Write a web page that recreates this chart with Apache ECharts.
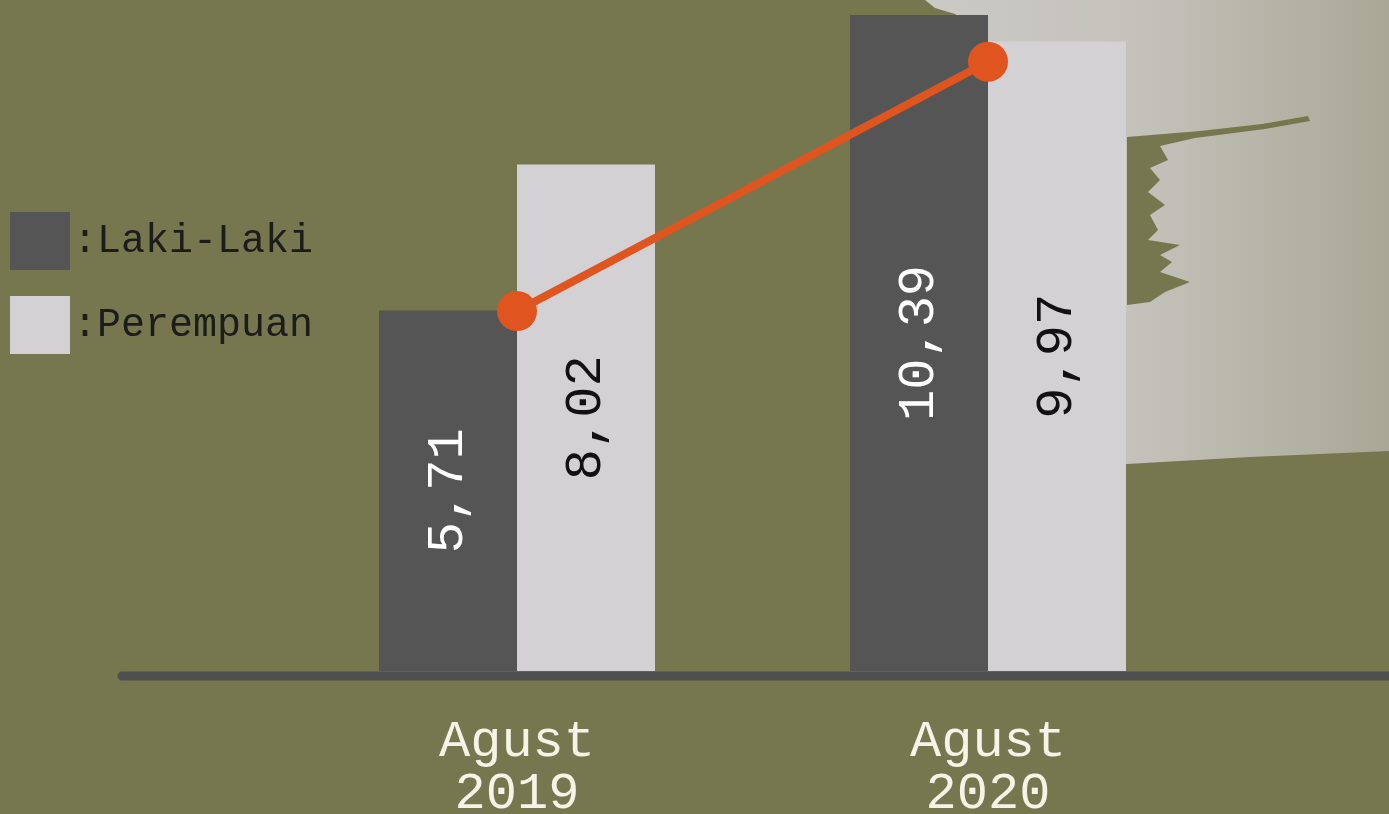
<!DOCTYPE html>
<html>
<head>
<meta charset="utf-8">
<script src="https://cdn.jsdelivr.net/npm/echarts@6/dist/echarts.min.js"></script>
<style>
html,body{margin:0;padding:0;background:#76774f;}
#chart{width:1389px;height:814px;}
</style>
</head>
<body>
<div id="chart"></div>
<script>
const categories = ['Agust\n2019', 'Agust\n2020'];
const lakiLaki = [5.71, 10.39];
const perempuan = [8.02, 9.97];
const trendLine = [5.70, 9.65];
const seriesNames = ['Laki-Laki', 'Perempuan'];

const FONT = '"Liberation Mono", "DejaVu Sans Mono", monospace';
const chart = echarts.init(document.getElementById('chart'));

function fmt(v){ return v.toFixed(2).replace('.', ','); }

chart.setOption({
  backgroundColor: '#76774f',
  animation: false,
  graphic: [
    {
      type: 'polygon', z: 0,
      shape: { points: [[925,0],[1389,0],[1389,451],[1250,457],[1127,464],[985,468],[980,30],[955,14],[935,8]] },
      style: { fill: new echarts.graphic.LinearGradient(0,0,1,0,[
        {offset:0,color:'#cbc9c4'},{offset:0.45,color:'#c4c2bb'},{offset:1,color:'#a9a896'}]) }
    },
    {
      type: 'polygon', z: 0,
      shape: { points: [[1127,137],[1200,131],[1262,124],[1308,116],[1310,121],[1265,129],[1195,138],[1160,146],[1168,160],[1150,168],[1160,180],[1148,192],[1165,205],[1150,215],[1158,230],[1148,240],[1180,245],[1160,255],[1172,262],[1160,272],[1190,282],[1165,292],[1150,302],[1127,305]] },
      style: { fill: '#76774f' }
    },
    {
      type: 'line', z: 10,
      shape: { x1: 122, y1: 676, x2: 1400, y2: 676 },
      style: { stroke: '#4f4f4f', lineWidth: 9, lineCap: 'round' }
    }
  ],
  legend: {
    data: seriesNames,
    orient: 'vertical',
    left: 10, top: 212,
    padding: 0,
    itemWidth: 60, itemHeight: 58, itemGap: 26,
    icon: 'rect',
    formatter: function(n){ return ':' + n; },
    textStyle: { fontFamily: FONT, fontSize: 40, color: '#1c1c1a', padding: [0,0,0,-2] }
  },
  grid: { left: 281.5, right: 165.5, top: 8, bottom: 143, outerBoundsMode: 'none', containLabel: false },
  xAxis: {
    type: 'category',
    data: categories,
    axisLine: { show: false },
    axisTick: { show: false },
    axisLabel: {
      margin: 45,
      fontFamily: FONT, fontSize: 52, lineHeight: 52,
      color: '#f6f3e8'
    }
  },
  yAxis: {
    type: 'value', min: 0, max: 10.5,
    show: false
  },
  series: [
    {
      name: seriesNames[0], type: 'bar', data: lakiLaki,
      barWidth: 138, barGap: '0%',
      itemStyle: { color: '#555555' },
      label: {
        show: true, position: 'inside', rotate: 90,
        formatter: p => fmt(p.value),
        fontFamily: FONT, fontSize: 52, color: '#ffffff'
      }
    },
    {
      name: seriesNames[1], type: 'bar', data: perempuan,
      barWidth: 138, barGap: '0%',
      itemStyle: { color: '#d3d1d4' },
      label: {
        show: true, position: 'inside', rotate: 90,
        formatter: p => fmt(p.value),
        fontFamily: FONT, fontSize: 52, color: '#111111'
      }
    },
    {
      name: 'trend', type: 'line', data: trendLine,
      symbol: 'circle', symbolSize: 40,
      lineStyle: { color: '#e0541f', width: 8 },
      itemStyle: { color: '#e0541f' },
      z: 5
    }
  ]
});
</script>
</body>
</html>
